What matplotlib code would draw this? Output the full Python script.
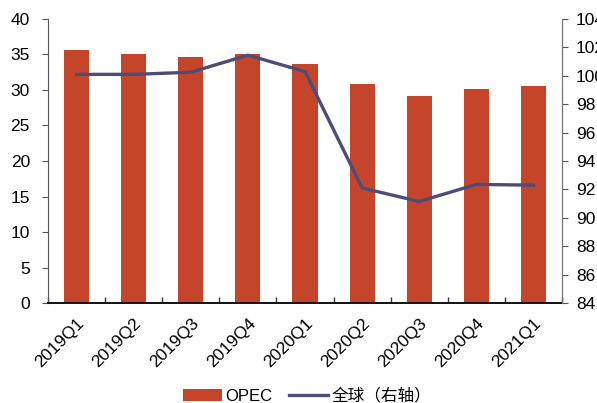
import numpy as np
import matplotlib.pyplot as plt

plt.rcParams['font.family'] = ['Liberation Sans', 'Noto Sans CJK SC', 'DejaVu Sans']

quarters = ["2019Q1", "2019Q2", "2019Q3", "2019Q4", "2020Q1",
            "2020Q2", "2020Q3", "2020Q4", "2021Q1"]
opec = [35.6, 35.1, 34.6, 35.0, 33.6, 30.8, 29.2, 30.1, 30.6]
world = [100.1, 100.1, 100.25, 101.45, 100.3, 92.1, 91.15, 92.35, 92.3]

bar_color = "#C5452A"
line_color = "#4E4C78"

fig = plt.figure(figsize=(5.97, 4.03), dpi=100)
ax = fig.add_axes([0.0804, 0.2481, 0.861, 0.7048])
x = np.arange(len(quarters))

ax.bar(x, opec, width=0.44, color=bar_color, label="OPEC", zorder=2)
ax.set_ylim(0, 40)
ax.set_yticks(range(0, 41, 5))
ax.set_xlim(-0.5, len(quarters) - 0.5)
ax.set_xticks(x)
ax.set_xticklabels(quarters, rotation=45, ha="right", rotation_mode="anchor")
ax.set_xticks(np.arange(-0.5, len(quarters)), minor=True)
ax.tick_params(axis="x", which="major", length=0, labelsize=12.5, pad=9)
ax.tick_params(axis="x", which="minor", direction="in", length=4, width=1, color="#333333")
ax.tick_params(axis="y", direction="out", length=4, color="#555555", labelsize=12.5, pad=9)

ax2 = ax.twinx()
ax2.plot(x, world, color=line_color, lw=2.4, label="全球（右轴）", zorder=3)
ax2.set_ylim(84, 104)
ax2.set_yticks(range(84, 105, 2))
ax2.tick_params(axis="y", direction="out", length=4, color="#555555", labelsize=12.5, pad=6)

for a in (ax, ax2):
    a.spines["top"].set_visible(False)
ax.spines["left"].set_color("#555555")
ax2.spines["right"].set_color("#777777")
ax.spines["bottom"].set_linewidth(1.4)
ax.spines["bottom"].set_color("#111111")
ax2.spines["left"].set_visible(False)
ax2.spines["bottom"].set_visible(False)

h1, l1 = ax.get_legend_handles_labels()
h2, l2 = ax2.get_legend_handles_labels()
fig.legend(h1 + h2, l1 + l2, loc="center", bbox_to_anchor=(0.515, 0.018), ncol=2,
           frameon=False, fontsize=12, handlelength=2.3, columnspacing=1.0,
           handletextpad=0.25)

fig.savefig("out.png", dpi=100)
